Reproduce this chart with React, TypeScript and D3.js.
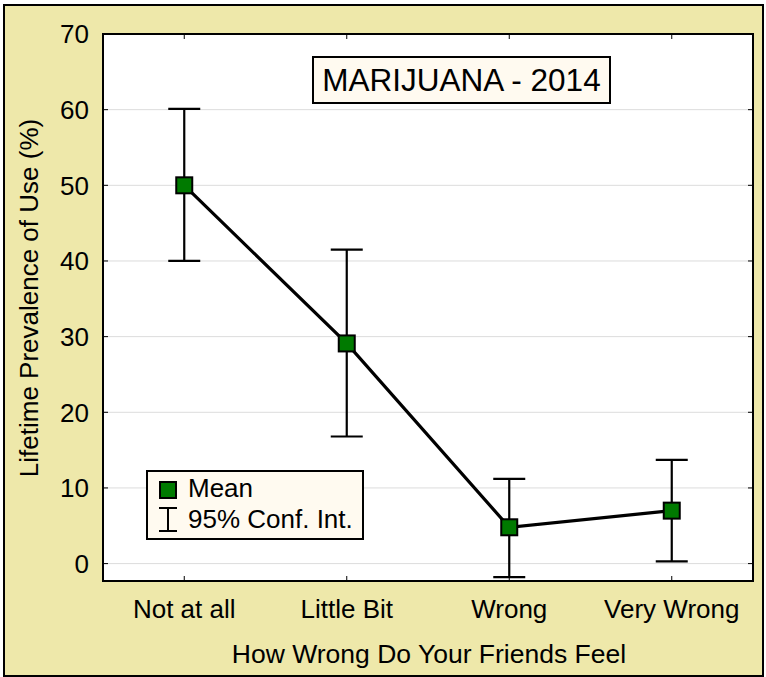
import React from "react";
import * as d3 from "d3";

const categories = ["Not at all", "Little Bit", "Wrong", "Very Wrong"];
const means = [50.0, 29.1, 4.8, 7.0];
const lowerCI = [40.0, 16.8, -1.8, 0.3];
const upperCI = [60.1, 41.5, 11.2, 13.7];
const yTicks = [0, 10, 20, 30, 40, 50, 60, 70];
const chartTitle = "MARIJUANA - 2014";
const xTitle = "How Wrong Do Your Friends Feel";
const yTitle = "Lifetime Prevalence of Use (%)";
const legendLabels = ["Mean", "95% Conf. Int."];

const W = 766;
const H = 677;
const plot = { left: 103, right: 753, top: 34, bottom: 581 };
const FONT = "'Liberation Sans', Arial, sans-serif";

export default function App() {
  const x = d3
    .scaleBand<string>()
    .domain(categories)
    .range([plot.left, plot.right])
    .padding(0);
  const cx = (c: string) => (x(c) as number) + x.bandwidth() / 2;
  const y = d3.scaleLinear().domain([-2.3, 70]).range([plot.bottom, plot.top]);

  const data = categories.map((c, i) => ({
    c,
    m: means[i],
    lo: lowerCI[i],
    hi: upperCI[i],
  }));

  const line = d3
    .line<{ c: string; m: number }>()
    .x((d) => cx(d.c))
    .y((d) => y(d.m));

  const cap = 16;
  const ms = 16;

  return (
    <svg
      width={W}
      height={H}
      style={{ position: "absolute", left: 0, top: 0, display: "block" }}
      fontFamily={FONT}
    >
      <rect x={0} y={0} width={W} height={H} fill="#ffffff" />
      <rect x={4} y={5} width={759} height={671} fill="#eee8aa" stroke="#000" strokeWidth={2} />

      {/* plot area */}
      <rect
        x={plot.left}
        y={plot.top}
        width={plot.right - plot.left}
        height={plot.bottom - plot.top}
        fill="#ffffff"
      />
      {yTicks.map((t) => (
        <line
          key={"g" + t}
          x1={plot.left}
          x2={plot.right}
          y1={y(t)}
          y2={y(t)}
          stroke="#dcdcdc"
          strokeWidth={1}
        />
      ))}
      {yTicks.map((t) => (
        <g key={"yt" + t}>
          <line x1={plot.left} x2={plot.left + 5} y1={y(t)} y2={y(t)} stroke="#000" strokeWidth={1} />
          <line x1={plot.right - 5} x2={plot.right} y1={y(t)} y2={y(t)} stroke="#000" strokeWidth={1} />
          <text x={89} y={y(t)} dy="0.36em" textAnchor="end" fontSize={26} fill="#000">
            {t}
          </text>
        </g>
      ))}
      {categories.map((c) => (
        <g key={"xt" + c}>
          <line x1={cx(c)} x2={cx(c)} y1={plot.bottom} y2={plot.bottom - 5} stroke="#000" strokeWidth={1} />
          <line x1={cx(c)} x2={cx(c)} y1={plot.top} y2={plot.top + 5} stroke="#000" strokeWidth={1} />
          <text x={cx(c)} y={618} textAnchor="middle" fontSize={26} fill="#000">
            {c}
          </text>
        </g>
      ))}
      <rect
        x={plot.left}
        y={plot.top}
        width={plot.right - plot.left}
        height={plot.bottom - plot.top}
        fill="none"
        stroke="#000"
        strokeWidth={2}
      />

      {/* title box */}
      <rect x={313} y={57} width={297} height={46} fill="#fffaf0" stroke="#000" strokeWidth={2} />
      <text x={461.5} y={91} textAnchor="middle" fontSize={31.5} fill="#000">
        {chartTitle}
      </text>

      {/* error bars */}
      {data.map((d) => (
        <g key={"e" + d.c} stroke="#000" strokeWidth={2.2}>
          <line x1={cx(d.c)} x2={cx(d.c)} y1={y(d.lo)} y2={y(d.hi)} />
          <line x1={cx(d.c) - cap} x2={cx(d.c) + cap} y1={y(d.lo)} y2={y(d.lo)} />
          <line x1={cx(d.c) - cap} x2={cx(d.c) + cap} y1={y(d.hi)} y2={y(d.hi)} />
        </g>
      ))}
      <path d={line(data) || ""} fill="none" stroke="#000" strokeWidth={3.2} />
      {data.map((d) => (
        <rect
          key={"m" + d.c}
          x={cx(d.c) - ms / 2}
          y={y(d.m) - ms / 2}
          width={ms}
          height={ms}
          fill="#007a00"
          stroke="#000"
          strokeWidth={2}
        />
      ))}

      {/* legend */}
      <rect x={147} y={471} width={216} height={68} fill="#fffaf0" stroke="#000" strokeWidth={2} />
      <rect x={160} y={482} width={16} height={16} fill="#007a00" stroke="#000" strokeWidth={2} />
      <text x={188} y={497} fontSize={26} fill="#000">
        {legendLabels[0]}
      </text>
      <g stroke="#000" strokeWidth={2}>
        <line x1={168} x2={168} y1={508} y2={531} />
        <line x1={159} x2={177} y1={508} y2={508} />
        <line x1={159} x2={177} y1={531} y2={531} />
      </g>
      <text x={188} y={528} fontSize={26} fill="#000">
        {legendLabels[1]}
      </text>

      {/* axis titles */}
      <text x={429} y={663} textAnchor="middle" fontSize={26.5} fill="#000">
        {xTitle}
      </text>
      <text
        transform={`translate(38, 298) rotate(-90)`}
        textAnchor="middle"
        fontSize={26}
        fill="#000"
      >
        {yTitle}
      </text>
    </svg>
  );
}
